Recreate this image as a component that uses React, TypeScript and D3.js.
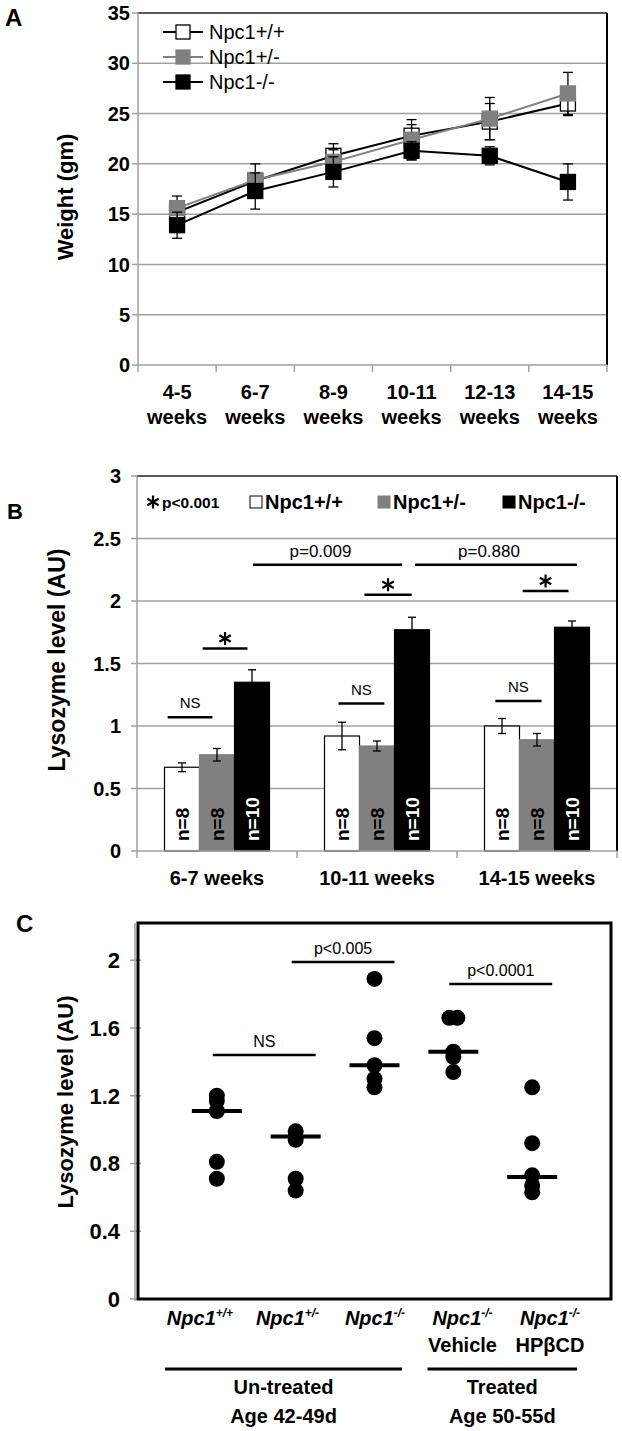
import React from 'react';
import * as d3 from 'd3';

// ---------- Panel A data ----------
const weeksA = ['4-5', '6-7', '8-9', '10-11', '12-13', '14-15'];
const seriesNames = ['Npc1+/+', 'Npc1+/-', 'Npc1-/-'];
const wtWeight = [15.2, 18.3, 20.8, 22.8, 24.2, 26.0];
const hetWeight = [15.6, 18.4, 20.2, 22.4, 24.5, 27.0];
const koWeight = [13.9, 17.3, 19.2, 21.3, 20.8, 18.2];
const wtWeightErr = [0.6, 0.8, 1.2, 1.1, 1.8, 1.2];
const hetWeightErr = [1.2, 1.6, 1.2, 2.0, 2.1, 2.1];
const koWeightErr = [1.3, 1.8, 1.5, 0.9, 0.9, 1.8];
const weightTicks = [0, 5, 10, 15, 20, 25, 30, 35];

// ---------- Panel B data ----------
const groupsB = ['6-7 weeks', '10-11 weeks', '14-15 weeks'];
const wtLyso = [0.67, 0.92, 1.0];
const hetLyso = [0.77, 0.84, 0.89];
const koLyso = [1.35, 1.77, 1.79];
const wtLysoErr = [0.035, 0.11, 0.06];
const hetLysoErr = [0.05, 0.04, 0.05];
const koLysoErr = [0.1, 0.1, 0.05];
const nLabels = ['n=8', 'n=8', 'n=10'];
const lysoTicks = [0, 0.5, 1, 1.5, 2, 2.5, 3];
const nsLevels = [1.07, 1.18, 1.2];
const starLevels = [1.62, 2.05, 2.08];
const pLabelsB = ['p=0.009', 'p=0.880'];
const pLevelB = 2.29;

// ---------- Panel C data ----------
const groupsC = ['+/+', '+/-', '-/-', '-/-', '-/-'];
const subLabelsC = ['', '', '', 'Vehicle', 'HPβCD'];
const pointsC = [
  [1.2, 1.17, 1.11, 0.81, 0.71],
  [0.99, 0.96, 0.94, 0.71, 0.64],
  [1.89, 1.54, 1.38, 1.3, 1.25],
  [1.66, 1.66, 1.46, 1.43, 1.34],
  [1.25, 0.92, 0.73, 0.67, 0.63],
];
const mediansC = [1.11, 0.96, 1.38, 1.46, 0.72];
const ticksC = [0, 0.4, 0.8, 1.2, 1.6, 2];
const annC = [
  { from: 0, to: 1, level: 1.44, label: 'NS' },
  { from: 1, to: 2, level: 1.99, label: 'p<0.005' },
  { from: 3, to: 4, level: 1.86, label: 'p<0.0001' },
];
const treatGroups = [
  { from: 0, to: 2, l1: 'Un-treated', l2: 'Age 42-49d' },
  { from: 3, to: 4, l1: 'Treated', l2: 'Age 50-55d' },
];

const FONT = 'Liberation Sans, Arial, Helvetica, sans-serif';
const NARROW = 'Liberation Sans Narrow, Liberation Sans, Arial, sans-serif';
const GRID = '#a0a0a0';

function PanelA() {
  const L = 138, R = 607, T = 13, B = 365;
  const x = d3.scaleBand().domain(weeksA).range([L, R]);
  const y = d3.scaleLinear().domain([0, 35]).range([B, T]);
  const cx = (w: string) => (x(w) as number) + x.bandwidth() / 2;
  const series = [
    { name: seriesNames[0], vals: wtWeight, err: wtWeightErr, fill: '#ffffff', line: '#000000' },
    { name: seriesNames[1], vals: hetWeight, err: hetWeightErr, fill: '#808080', line: '#808080' },
    { name: seriesNames[2], vals: koWeight, err: koWeightErr, fill: '#000000', line: '#000000' },
  ];
  const line = d3.line<number>().x((_, i) => cx(weeksA[i])).y((d) => y(d));
  const ms = 15;
  return (
    <g>
      <text x={5} y={26} fontFamily={FONT} fontWeight="bold" fontSize={24}>A</text>
      {weightTicks.map((t) => (
        <g key={t}>
          {t > 0 && t < 35 && <line x1={L} x2={R} y1={y(t)} y2={y(t)} stroke={GRID} strokeWidth={1.5} />}
          <line x1={L - 6} x2={L} y1={y(t)} y2={y(t)} stroke={GRID} strokeWidth={1.5} />
          <text x={130} y={y(t)} dy="0.36em" textAnchor="end" fontFamily={FONT} fontWeight="bold" fontSize={20}>{t}</text>
        </g>
      ))}
      <line x1={L} x2={R} y1={T} y2={T} stroke="#222" strokeWidth={1.5} />
      <line x1={R} x2={R} y1={T} y2={B} stroke="#000" strokeWidth={2} />
      <line x1={L} x2={L} y1={T} y2={B} stroke={GRID} strokeWidth={1.5} />
      <line x1={L} x2={R} y1={B} y2={B} stroke={GRID} strokeWidth={1.5} />
      {weeksA.concat(['end']).map((w, i) => {
        const xx = L + i * x.bandwidth();
        return <line key={w} x1={xx} x2={xx} y1={B} y2={B + 7} stroke={GRID} strokeWidth={1.5} />;
      })}
      {weeksA.map((w) => (
        <text key={w} textAnchor="middle" fontFamily={FONT} fontWeight="bold" fontSize={20}>
          <tspan x={cx(w)} y={399}>{w}</tspan>
          <tspan x={cx(w)} y={424}>weeks</tspan>
        </text>
      ))}
      <text transform={`translate(73,197) rotate(-90)`} textAnchor="middle" fontFamily={FONT} fontWeight="bold" fontSize={22}>Weight (gm)</text>
      {series.map((s) => (
        <g key={s.name}>
          <path d={line(s.vals) as string} fill="none" stroke={s.line} strokeWidth={2} />
          {s.vals.map((v, i) => {
            const xx = cx(weeksA[i]);
            return (
              <g key={i}>
                <line x1={xx} x2={xx} y1={y(v - s.err[i])} y2={y(v + s.err[i])} stroke="#000" strokeWidth={1.3} />
                <line x1={xx - 5} x2={xx + 5} y1={y(v - s.err[i])} y2={y(v - s.err[i])} stroke="#000" strokeWidth={1.3} />
                <line x1={xx - 5} x2={xx + 5} y1={y(v + s.err[i])} y2={y(v + s.err[i])} stroke="#000" strokeWidth={1.3} />
                <rect x={xx - ms / 2} y={y(v) - ms / 2} width={ms} height={ms} fill={s.fill} stroke={s.fill === '#808080' ? '#808080' : '#000'} strokeWidth={1.3} />
              </g>
            );
          })}
        </g>
      ))}
      {series.map((s, i) => {
        const yy = 32 + i * 25;
        return (
          <g key={s.name}>
            <line x1={163} x2={203} y1={yy} y2={yy} stroke={s.line} strokeWidth={2} />
            <rect x={183 - 7} y={yy - 7} width={14} height={14} fill={s.fill} stroke={s.fill === '#808080' ? '#808080' : '#000'} strokeWidth={1.3} />
            <text x={209} y={yy} dy="0.36em" fontFamily={FONT} fontSize={20}>{s.name}</text>
          </g>
        );
      })}
    </g>
  );
}

function PanelB() {
  const L = 137, R = 617, T = 476, B = 851;
  const x0 = d3.scaleBand().domain(groupsB).range([L, R]);
  const y = d3.scaleLinear().domain([0, 3]).range([B, T]);
  const barW = 35;
  const gStart = (g: string) => (x0(g) as number) + (x0.bandwidth() - 3 * barW) / 2;
  const gc = (g: string) => (x0(g) as number) + x0.bandwidth() / 2;
  const series = [
    { vals: wtLyso, err: wtLysoErr, fill: '#ffffff', stroke: '#000', tc: '#000' },
    { vals: hetLyso, err: hetLysoErr, fill: '#808080', stroke: '#808080', tc: '#000' },
    { vals: koLyso, err: koLysoErr, fill: '#000000', stroke: '#000', tc: '#fff' },
  ];
  const star = d3.symbol(d3.symbolAsterisk, 120)() as string;
  const nsSpans = [[0.09, 1.37], [0.4, 1.71], [0.31, 1.63]];
  const starSpans = [[1.09, 2.37], [1.14, 2.49], [1.09, 2.4]];
  const pSpans = [[0, 36, 1, 25], [1, 38, 2, 40]];
  return (
    <g>
      <text x={7} y={519} fontFamily={FONT} fontWeight="bold" fontSize={22}>B</text>
      {lysoTicks.map((t) => (
        <g key={t}>
          {t > 0 && t < 3 && <line x1={L} x2={R} y1={y(t)} y2={y(t)} stroke={GRID} strokeWidth={1.5} />}
          <line x1={L - 6} x2={L} y1={y(t)} y2={y(t)} stroke={GRID} strokeWidth={1.5} />
          <text x={121} y={y(t)} dy="0.36em" textAnchor="end" fontFamily={FONT} fontWeight="bold" fontSize={20}>{t}</text>
        </g>
      ))}
      <line x1={L} x2={R} y1={T} y2={T} stroke="#222" strokeWidth={1.5} />
      <line x1={R} x2={R} y1={T} y2={B} stroke="#000" strokeWidth={2} />
      <line x1={L} x2={L} y1={T} y2={B} stroke={GRID} strokeWidth={1.5} />
      {groupsB.map((g, gi) =>
        series.map((s, si) => {
          const v = s.vals[gi];
          const bx = gStart(g) + si * barW;
          const mid = bx + barW / 2;
          return (
            <g key={g + si}>
              <rect x={bx} y={y(v)} width={barW} height={B - y(v)} fill={s.fill} stroke={s.stroke} strokeWidth={1.2} />
              <line x1={mid} x2={mid} y1={y(v - s.err[gi])} y2={y(v + s.err[gi])} stroke="#000" strokeWidth={1.3} />
              <line x1={mid - 4} x2={mid + 4} y1={y(v - s.err[gi])} y2={y(v - s.err[gi])} stroke="#000" strokeWidth={1.3} />
              <line x1={mid - 4} x2={mid + 4} y1={y(v + s.err[gi])} y2={y(v + s.err[gi])} stroke="#000" strokeWidth={1.3} />
              <text transform={`translate(${mid},${B - 10}) rotate(-90)`} dy="0.36em" fill={s.tc} fontFamily={FONT} fontWeight="bold" fontSize={19}>{nLabels[si]}</text>
            </g>
          );
        })
      )}
      <line x1={L} x2={R} y1={B} y2={B} stroke={GRID} strokeWidth={1.5} />
      {groupsB.concat(['end']).map((g, i) => {
        const xx = L + i * x0.bandwidth();
        return <line key={g} x1={xx} x2={xx} y1={B} y2={B + 7} stroke={GRID} strokeWidth={1.5} />;
      })}
      {groupsB.map((g) => (
        <text key={g} x={gc(g)} y={885} textAnchor="middle" fontFamily={FONT} fontWeight="bold" fontSize={20}>{g}</text>
      ))}
      <text transform={`translate(65,660) rotate(-90)`} textAnchor="middle" fontFamily={FONT} fontWeight="bold" fontSize={23}>Lysozyme level (AU)</text>
      {groupsB.map((g, gi) => {
        const s0 = gStart(g);
        const [a, b] = nsSpans[gi];
        const [c, d] = starSpans[gi];
        const yn = y(nsLevels[gi]);
        const ys = y(starLevels[gi]);
        return (
          <g key={g}>
            <line x1={s0 + a * barW} x2={s0 + b * barW} y1={yn} y2={yn} stroke="#000" strokeWidth={2.5} />
            <text x={s0 + ((a + b) / 2) * barW} y={yn - 9} textAnchor="middle" fontFamily={FONT} fontSize={15}>NS</text>
            <line x1={s0 + c * barW} x2={s0 + d * barW} y1={ys} y2={ys} stroke="#000" strokeWidth={2.5} />
            <path d={star} transform={`translate(${s0 + ((c + d) / 2) * barW},${ys - 10})`} stroke="#000" strokeWidth={2.2} fill="none" />
          </g>
        );
      })}
      {pSpans.map(([g1, o1, g2, o2], i) => {
        const xa = gc(groupsB[g1]) + o1;
        const xb = gc(groupsB[g2]) + o2;
        return (
          <g key={i}>
            <line x1={xa} x2={xb} y1={y(pLevelB)} y2={y(pLevelB)} stroke="#000" strokeWidth={2.5} />
            <text x={(xa + xb) / 2 - 7} y={y(pLevelB) - 8} textAnchor="middle" fontFamily={FONT} fontSize={17}>{pLabelsB[i]}</text>
          </g>
        );
      })}
      {/* legend */}
      <path d={star} transform="translate(153,502)" stroke="#000" strokeWidth={2.2} fill="none" />
      <text x={162} y={502} dy="0.36em" fontFamily={FONT} fontWeight="bold" fontSize={15.5}>p&lt;0.001</text>
      {series.map((s, i) => {
        const lx = [250, 378, 503][i];
        return (
          <g key={i}>
            <rect x={lx} y={496} width={12} height={12} fill={s.fill} stroke={s.stroke} strokeWidth={1} />
            <text x={lx + 15} y={502} dy="0.36em" fontFamily={FONT} fontWeight="bold" fontSize={20}>{seriesNames[i]}</text>
          </g>
        );
      })}
    </g>
  );
}

function PanelC() {
  const L = 138, R = 611, T = 923, B = 1299;
  const x = d3.scaleLinear().domain([0, 6]).range([L, R]);
  const xl = d3.scalePoint<number>().domain([0, 1, 2, 3, 4]).range([200, 550]);
  const y = d3.scaleLinear().domain([0, 2.22]).range([B, T]);
  return (
    <g>
      <text x={16} y={932} fontFamily={NARROW} fontWeight="bold" fontSize={24}>C</text>
      <line x1={L - 3} x2={L - 3} y1={T} y2={B + 2} stroke={GRID} strokeWidth={1.5} />
      {ticksC.map((t) => (
        <g key={t}>
          <line x1={L - 8} x2={L + 3} y1={y(t)} y2={y(t)} stroke={GRID} strokeWidth={1.5} />
          <text x={120} y={y(t)} dy="0.36em" textAnchor="end" fontFamily={NARROW} fontWeight="bold" fontSize={22}>{t}</text>
        </g>
      ))}
      <rect x={L} y={T} width={R - L} height={B - T} fill="none" stroke="#000" strokeWidth={3} />
      <text transform={`translate(73,1102) rotate(-90)`} textAnchor="middle" fontFamily={FONT} fontWeight="bold" fontSize={22}>Lysozyme level (AU)</text>
      {pointsC.map((pts, gi) => {
        const cx = x(gi + 1);
        return (
          <g key={gi}>
            {pts.map((v, pi) => {
              const dup = pts.filter((w) => w === v).length > 1;
              const k = pts.slice(0, pi).filter((w) => w === v).length;
              const off = dup ? (k === 0 ? -4 : 4) : 0;
              return <circle key={pi} cx={cx + off} cy={y(v)} r={8} fill="#000" />;
            })}
            <line x1={cx - 25} x2={cx + 25} y1={y(mediansC[gi])} y2={y(mediansC[gi])} stroke="#000" strokeWidth={4} />
          </g>
        );
      })}
      {annC.map((a) => {
        const xa = x(a.from + 1) - 4;
        const xb = x(a.to + 1) + 20;
        return (
          <g key={a.label}>
            <line x1={xa} x2={xb} y1={y(a.level)} y2={y(a.level)} stroke="#000" strokeWidth={2.5} />
            <text x={(xa + xb) / 2} y={y(a.level) - 8} textAnchor="middle" fontFamily={a.label === 'NS' ? NARROW : FONT} fontSize={16}>{a.label}</text>
          </g>
        );
      })}
      {groupsC.map((g, i) => (
        <g key={i}>
          <text x={xl(i)} y={1325} textAnchor="middle" fontFamily={FONT} fontWeight="bold" fontStyle="italic" fontSize={20}>
            Npc1<tspan dy={-8} fontSize={12}>{g}</tspan>
          </text>
          {subLabelsC[i] && (
            <text x={xl(i)} y={1352} textAnchor="middle" fontFamily={FONT} fontWeight="bold" fontSize={20}>{subLabelsC[i]}</text>
          )}
        </g>
      ))}
      {treatGroups.map((tg) => {
        const xa = (xl(tg.from) as number) - 35;
        const xb = (xl(tg.to) as number) + 27;
        return (
          <g key={tg.l1}>
            <line x1={xa} x2={xb} y1={1369} y2={1369} stroke="#000" strokeWidth={3} />
            <text x={(xa + xb) / 2} y={1394} textAnchor="middle" fontFamily={FONT} fontWeight="bold" fontSize={20}>{tg.l1}</text>
            <text x={(xa + xb) / 2} y={1423} textAnchor="middle" fontFamily={FONT} fontWeight="bold" fontSize={20}>{tg.l2}</text>
          </g>
        );
      })}
    </g>
  );
}

export default function App() {
  return (
    <svg width={622} height={1431} style={{ position: 'absolute', left: 0, top: 0, background: '#fff' }}>
      <rect width={622} height={1431} fill="#fff" />
      <PanelA />
      <PanelB />
      <PanelC />
    </svg>
  );
}
